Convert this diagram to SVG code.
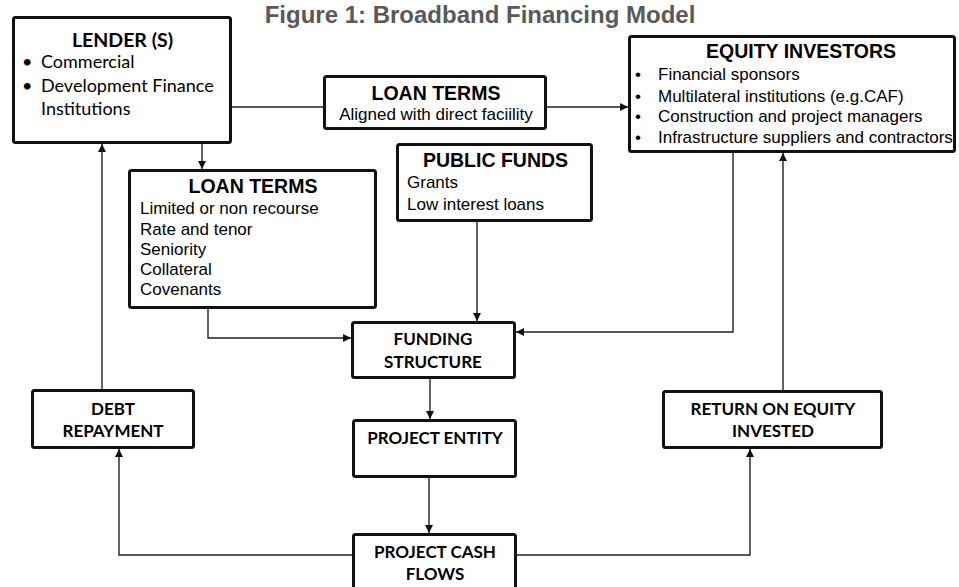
<svg xmlns="http://www.w3.org/2000/svg" width="959" height="587" viewBox="0 0 959 587">
  <defs>
    <marker id="arrow" viewBox="0 0 10 10" refX="10" refY="5" markerUnits="userSpaceOnUse" markerWidth="8" markerHeight="8" orient="auto">
      <path d="M0,0 L10,5 L0,10 z" fill="#111"/>
    </marker>
    <style>
      .box { fill: #fff; stroke: #111; stroke-width: 3; }
      .link { fill: none; stroke: #222; stroke-width: 1.4; }
      .arr { marker-end: url(#arrow); }
      .hA { font-family: "Liberation Sans", Arial, sans-serif; font-weight: bold; font-size: 19.5px; fill: #000; text-anchor: middle; }
      .tA { font-family: "Liberation Sans", Arial, sans-serif; font-size: 17px; fill: #000; }
      .hC { font-family: Lato, "Open Sans", sans-serif; font-weight: bold; font-size: 17px; fill: #000; text-anchor: middle; }
      .tC { font-family: Lato, "Open Sans", sans-serif; font-size: 18px; fill: #000; }
      .title { font-family: "Liberation Sans", Arial, sans-serif; font-weight: bold; font-size: 24px; fill: #595959; text-anchor: middle; }
    </style>
  </defs>

  <rect width="959" height="587" fill="#fff"/>

  <text class="title" x="480" y="23">Figure 1: Broadband Financing Model</text>

  <!-- connectors -->
  <g id="connectors">
    <path class="link" d="M232,107 H323"/>
    <path class="link arr" d="M547,107 H628"/>
    <path class="link arr" d="M202,144 V169"/>
    <path class="link arr" d="M208,309 V338 H351"/>
    <path class="link arr" d="M477,222 V321"/>
    <path class="link arr" d="M733,153 V332 H516"/>
    <path class="link arr" d="M430,379 V419"/>
    <path class="link arr" d="M429,478 V533"/>
    <path class="link arr" d="M352,555 H119 V449"/>
    <path class="link arr" d="M517,555 H750 V449"/>
    <path class="link arr" d="M102,389 V144"/>
    <path class="link arr" d="M783,390 V153"/>
  </g>

  <g id="lenders">
    <rect class="box" x="13.5" y="17.5" width="217" height="125" rx="2"/>
    <text class="hC" x="122.5" y="47" style="font-size:19.5px">LENDER (S)</text>
    <text class="tC" x="22" y="68">•</text>
    <text class="tC" x="41" y="68">Commercial</text>
    <text class="tC" x="22" y="92">•</text>
    <text class="tC" x="41" y="92">Development Finance</text>
    <text class="tC" x="41" y="115">Institutions</text>
  </g>

  <g id="loan-terms-direct">
    <rect class="box" x="324.5" y="76.5" width="221" height="52" rx="2"/>
    <text class="hA" x="436" y="100">LOAN TERMS</text>
    <text class="tA" x="436" y="120" text-anchor="middle">Aligned with direct faciility</text>
  </g>

  <g id="equity-investors">
    <rect class="box" x="629.5" y="36.5" width="325" height="115" rx="2"/>
    <text class="hA" x="801" y="58">EQUITY INVESTORS</text>
    <text class="tA" x="635" y="80">•</text>
    <text class="tA" x="658" y="80">Financial sponsors</text>
    <text class="tA" x="635" y="102">•</text>
    <text class="tA" x="658" y="102">Multilateral institutions (e.g.CAF)</text>
    <text class="tA" x="635" y="122">•</text>
    <text class="tA" x="658" y="122">Construction and project managers</text>
    <text class="tA" x="635" y="143">•</text>
    <text class="tA" x="658" y="143">Infrastructure suppliers and contractors</text>
  </g>

  <g id="loan-terms">
    <rect class="box" x="129.5" y="170.5" width="246" height="137" rx="2"/>
    <text class="hA" x="253" y="193">LOAN TERMS</text>
    <text class="tA" x="140" y="214">Limited or non recourse</text>
    <text class="tA" x="140" y="235">Rate and tenor</text>
    <text class="tA" x="140" y="255">Seniority</text>
    <text class="tA" x="140" y="275">Collateral</text>
    <text class="tA" x="140" y="295">Covenants</text>
  </g>

  <g id="public-funds">
    <rect class="box" x="397.5" y="144.5" width="194" height="76" rx="2"/>
    <text class="hA" x="495.5" y="167">PUBLIC FUNDS</text>
    <text class="tA" x="407" y="188">Grants</text>
    <text class="tA" x="407" y="210">Low interest loans</text>
  </g>

  <g id="funding-structure">
    <rect class="box" x="352.5" y="322.5" width="162" height="55" rx="2"/>
    <text class="hC" x="433" y="345">FUNDING</text>
    <text class="hC" x="433" y="368">STRUCTURE</text>
  </g>

  <g id="project-entity">
    <rect class="box" x="353.5" y="420.5" width="162" height="56" rx="2"/>
    <text class="hC" x="435" y="444">PROJECT ENTITY</text>
  </g>

  <g id="project-cash-flows">
    <rect class="box" x="353.5" y="534.5" width="162" height="62" rx="2"/>
    <text class="hC" x="435" y="558">PROJECT CASH</text>
    <text class="hC" x="435" y="580">FLOWS</text>
  </g>

  <g id="debt-repayment">
    <rect class="box" x="32.5" y="390.5" width="161" height="57" rx="2"/>
    <text class="hC" x="113" y="415">DEBT</text>
    <text class="hC" x="113" y="437">REPAYMENT</text>
  </g>

  <g id="return-on-equity">
    <rect class="box" x="663.5" y="391.5" width="218" height="56" rx="2"/>
    <text class="hC" x="773" y="415">RETURN ON EQUITY</text>
    <text class="hC" x="773" y="437">INVESTED</text>
  </g>
</svg>
